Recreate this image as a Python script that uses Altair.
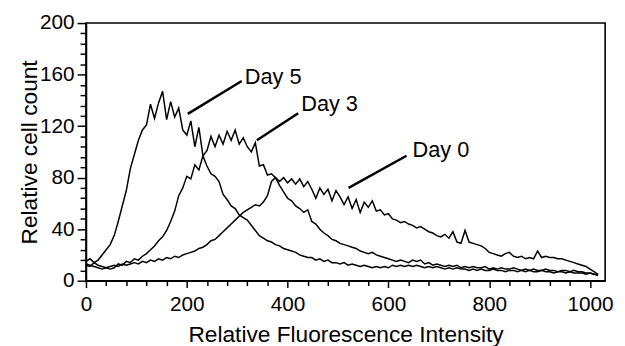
import altair as alt
import pandas as pd

# channel positions (step 8)
x_vals = list(range(0, 1024, 8))

day5 = [12, 11, 14, 16, 20, 24, 28, 35, 46, 58, 70, 87, 98, 109, 117, 121,
        137, 126, 138, 147, 125, 139, 127, 134, 117, 113, 124, 104, 119, 97, 89, 83,
        81, 77, 67, 63, 58, 56, 51, 49, 47, 43, 39, 35, 33, 31, 30, 28,
        27, 25, 24, 23, 22, 20, 19, 18, 18, 16, 17, 15, 16, 14, 14, 13,
        14, 12, 13, 12, 11, 12, 11, 10, 11, 10, 11, 10, 12, 11, 12, 11,
        12, 11, 12, 11, 10, 11, 10, 11, 10, 9, 10, 9, 10, 9, 9, 8,
        9, 8, 9, 8, 8, 9, 8, 8, 7, 8, 8, 7, 8, 7, 8, 7,
        7, 8, 7, 7, 6, 7, 7, 6, 7, 6, 6, 6, 5, 6, 5, 4]

day3 = [13, 12, 11, 10, 9, 10, 9, 10, 13, 12, 15, 14, 17, 16, 19, 21,
        24, 27, 31, 34, 39, 46, 54, 66, 72, 81, 79, 90, 86, 97, 101, 112,
        104, 113, 106, 116, 109, 117, 106, 111, 104, 100, 107, 89, 90, 82, 83, 80,
        74, 69, 64, 62, 58, 56, 53, 55, 46, 44, 40, 37, 35, 32, 31, 29,
        28, 27, 26, 25, 23, 22, 21, 22, 20, 19, 18, 17, 16, 15, 16, 15,
        14, 16, 15, 16, 13, 14, 12, 13, 12, 11, 12, 11, 12, 10, 11, 10,
        11, 10, 10, 11, 9, 10, 9, 10, 9, 9, 10, 9, 8, 9, 8, 9,
        8, 8, 9, 8, 8, 7, 8, 8, 7, 8, 7, 7, 6, 6, 5, 5]

day0 = [15, 17, 14, 12, 11, 10, 11, 12, 11, 13, 12, 13, 14, 13, 15, 14,
        16, 15, 17, 16, 18, 17, 19, 18, 20, 21, 22, 23, 25, 26, 28, 31,
        32, 35, 38, 41, 44, 47, 50, 53, 55, 57, 59, 58, 61, 66, 77, 80,
        77, 80, 76, 79, 75, 79, 73, 77, 71, 64, 72, 67, 71, 62, 70, 65,
        59, 65, 56, 63, 53, 61, 57, 62, 54, 55, 51, 52, 48, 47, 45, 46,
        44, 43, 41, 42, 40, 38, 37, 35, 34, 36, 33, 38, 30, 29, 39, 30,
        29, 28, 27, 25, 22, 21, 20, 19, 21, 22, 19, 18, 19, 17, 18, 17,
        23, 18, 19, 18, 18, 17, 17, 16, 15, 14, 13, 12, 11, 9, 7, 5]

# tick positions
x_ticks = list(range(0, 1001, 40))
y_ticks = list(range(0, 201, 8))

# annotations
labels = ["Day 5", "Day 3", "Day 0"]
label_x = [315, 427, 648]
label_y = [153, 132, 96]
lead_x1 = [202, 339, 521]
lead_y1 = [129.5, 109, 72]
lead_x2 = [309, 421, 636]
lead_y2 = [155, 130, 97]

rows = []
for name, ys in (("Day 5", day5), ("Day 3", day3), ("Day 0", day0)):
    for xv, yv in zip(x_vals, ys):
        rows.append({"series": name, "x": xv, "y": yv})
df = pd.DataFrame(rows)

ann = pd.DataFrame({"label": labels, "lx": label_x, "ly": label_y,
                    "x1": lead_x1, "y1": lead_y1, "x2": lead_x2, "y2": lead_y2})

FONT = "Liberation Sans"

xscale = alt.Scale(domain=[0, 1030], nice=False, zero=False)
yscale = alt.Scale(domain=[0, 200], nice=False)

xaxis = alt.Axis(
    title="Relative Fluorescence Intensity",
    values=x_ticks, tickCount=200, format="d",
    labelExpr="datum.value % 200 === 0 ? datum.label : ''",
    tickSize={"condition": {"test": "datum.value % 200 === 0", "value": 7}, "value": 5},
    grid=False, labelFontSize=21, titleFontSize=23, labelPadding=6, titlePadding=10,
    labelFlush=False, labelOverlap=False, labelBound=False,
)
yaxis = alt.Axis(
    title="Relative cell count",
    values=y_ticks, tickCount=200, format="d",
    labelExpr="datum.value % 40 === 0 ? datum.label : ''",
    tickSize={"condition": {"test": "datum.value % 40 === 0", "value": 9}, "value": 6},
    grid=False, labelFontSize=21, titleFontSize=23, labelPadding=3, titlePadding=-2,
    labelFlush=False, labelOverlap=False, labelBound=False,
)

lines = alt.Chart(df).mark_line(color="black", strokeWidth=1.5).encode(
    x=alt.X("x:Q", scale=xscale, axis=xaxis),
    y=alt.Y("y:Q", scale=yscale, axis=yaxis),
    detail="series:N",
)

leaders = alt.Chart(ann).mark_rule(color="black", strokeWidth=2.5).encode(
    x="x1:Q", y="y1:Q", x2="x2:Q", y2="y2:Q"
)

texts = alt.Chart(ann).mark_text(
    align="left", baseline="alphabetic", fontSize=22, font=FONT, color="black"
).encode(x="lx:Q", y="ly:Q", text="label:N")

chart = alt.layer(lines, leaders, texts).properties(
    width=526, height=261,
    autosize=alt.AutoSizeParams(type="none"),
    padding={"left": 79, "top": 13, "right": 12, "bottom": 72},
).configure_axis(
    labelFont=FONT, titleFont=FONT, labelColor="black", titleColor="black",
    domainColor="black", domainWidth=1.6, tickColor="black", tickWidth=1.5,
    titleFontWeight="normal",
).configure_view(stroke="black", strokeWidth=1.6)

chart.save("out.html", embed_options={"renderer": "svg", "actions": False})
